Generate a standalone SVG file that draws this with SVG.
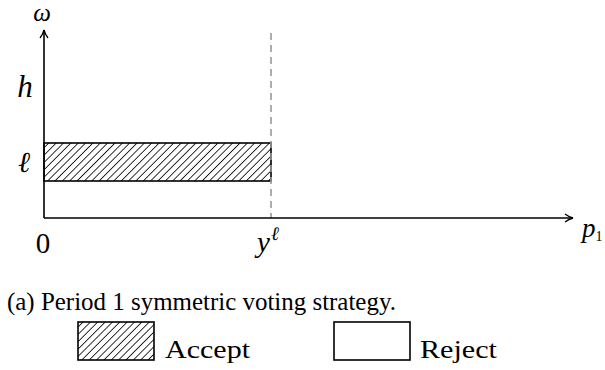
<svg xmlns="http://www.w3.org/2000/svg" width="605" height="370" viewBox="0 0 605 370">
  <style>
    .axis { stroke: #000; stroke-width: 1.6; fill: none; }
    .box { stroke: #000; stroke-width: 1.6; }
    .guide { stroke: #999; stroke-width: 1.6; stroke-dasharray: 7 5; fill: none; }
    .math { font-family: "Liberation Serif", "DejaVu Serif", serif; font-style: italic; fill: #000; }
    .roman { font-family: "Liberation Serif", "DejaVu Serif", serif; fill: #000; }
  </style>
  <defs>
    <pattern id="hatch" patternUnits="userSpaceOnUse" width="5.2" height="5.2" patternTransform="rotate(45)">
      <line x1="0" y1="0" x2="0" y2="5.2" stroke="#000" stroke-width="1.6"/>
    </pattern>
    <marker id="tip" viewBox="0 0 10 10" refX="9" refY="5" markerWidth="10" markerHeight="10" markerUnits="userSpaceOnUse" orient="auto">
      <path d="M1,1 Q5,4 9,5 Q5,6 1,9" fill="none" stroke="#000" stroke-width="1.3"/>
    </marker>
  </defs>

  <rect width="605" height="370" fill="#fff"/>

  <!-- accept region between the two omega levels, up to the threshold -->
  <g id="accept-region">
    <rect class="box" x="44" y="143" width="227" height="38" fill="url(#hatch)"/>
  </g>

  <!-- threshold guide -->
  <g id="threshold">
    <line class="guide" x1="271" y1="33" x2="271" y2="218"/>
  </g>

  <!-- axes -->
  <g id="axes">
    <line class="axis" x1="44" y1="218" x2="44" y2="30" marker-end="url(#tip)"/>
    <line class="axis" x1="44" y1="218" x2="573" y2="218" marker-end="url(#tip)"/>
  </g>

  <!-- axis labels and ticks -->
  <g id="labels">
    <text class="math" x="42" y="21" font-size="25" text-anchor="middle">ω</text>
    <text class="math" x="25" y="97" font-size="31" text-anchor="middle">h</text>
    <text class="math" x="24" y="172" font-size="29" text-anchor="middle">ℓ</text>
    <text class="roman" x="43" y="253" font-size="29" text-anchor="middle">0</text>
    <text class="math" x="257" y="252" font-size="29">y<tspan font-size="19" dx="1" dy="-12">ℓ</tspan></text>
    <text class="math" x="582" y="237" font-size="27">p<tspan font-style="normal" font-size="14" dy="4">1</tspan></text>
  </g>

  <!-- caption -->
  <g id="caption">
    <text class="roman" x="7" y="310" font-size="26" textLength="389" lengthAdjust="spacingAndGlyphs">(a) Period 1 symmetric voting strategy.</text>
  </g>

  <!-- legend -->
  <g id="legend-accept">
    <rect class="box" x="78" y="322" width="76" height="38" fill="url(#hatch)" stroke-width="1.3"/>
    <text class="roman" x="165" y="358" font-size="26" textLength="85" lengthAdjust="spacingAndGlyphs">Accept</text>
  </g>
  <g id="legend-reject">
    <rect class="box" x="334" y="322" width="76" height="38" fill="#fff" stroke-width="1.3"/>
    <text class="roman" x="420" y="358" font-size="26" textLength="77" lengthAdjust="spacingAndGlyphs">Reject</text>
  </g>
</svg>
